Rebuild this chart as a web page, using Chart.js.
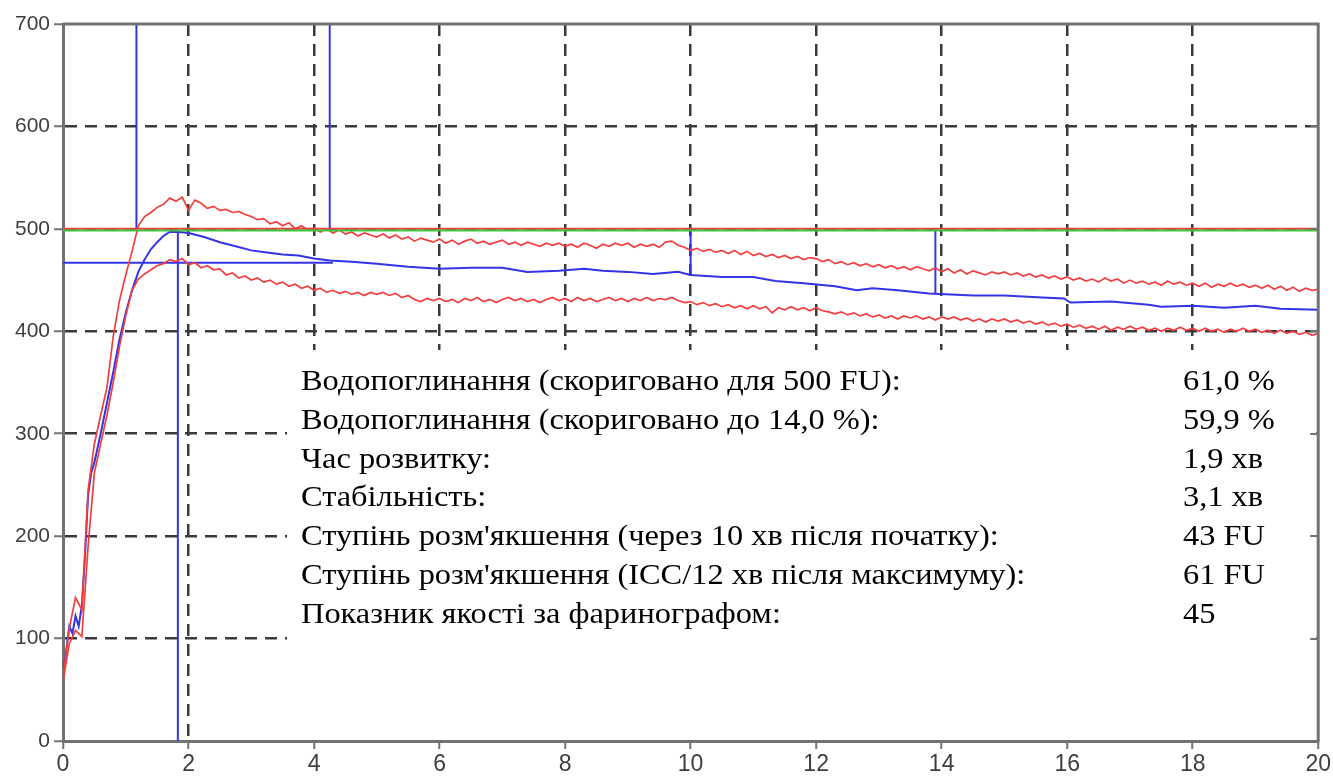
<!DOCTYPE html>
<html>
<head>
<meta charset="utf-8">
<script src="https://cdn.jsdelivr.net/npm/chart.js@4.4.1/dist/chart.umd.min.js"></script>
<style>
  html, body { margin: 0; padding: 0; background: #ffffff; }
  #wrap { width: 1333px; height: 776px; }
</style>
</head>
<body>
<div id="wrap"><canvas id="farinogram" width="1333" height="776"></canvas></div>
<script>
// Time axis (minutes) for the two envelope traces: 0.0 … 20.0 every 0.1 min
const envelopeTimes = Array.from({ length: 201 }, (_, i) => Math.round(i) / 10);

// Upper envelope of the consistency trace, FU
const upperTrace = [
  62, 110, 140, 128, 245, 290, 318, 345, 395, 430,
  455, 478, 503, 512, 516, 521, 524, 530, 527, 531,
  518, 528, 525, 520, 522, 518, 519, 516, 517, 514,
  512, 509, 510, 505, 507, 503, 506, 500, 503, 499,
  501, 497, 500, 496, 499, 495, 497, 493, 496, 494,
  492, 495, 491, 494, 490, 492, 488, 491, 489, 487,
  490, 486, 489, 485, 488, 490, 486, 488, 485, 487,
  489, 485, 487, 484, 487, 485, 483, 486, 484, 486,
  483, 485, 482, 486, 484, 481, 485, 483, 486, 484,
  486, 482, 485, 483, 485, 482, 487, 488, 484, 482,
  479, 481, 478, 480, 477, 479, 476, 479, 475, 478,
  474, 476, 473, 475, 472, 474, 471, 473, 470, 472,
  471, 468, 470, 466, 468, 465, 467, 464, 466, 463,
  465, 462, 464, 461, 463, 460, 463, 461, 459, 462,
  458, 461, 457, 460, 456, 459, 457, 455, 458, 456,
  458, 455, 457, 454, 456, 453, 455, 452, 454, 451,
  453, 450, 452, 449, 451, 448, 452, 449, 451, 447,
  450, 447, 449, 446, 448, 445, 449, 446, 448, 445,
  447, 444, 447, 443, 446, 444, 447, 444, 446, 443,
  445, 442, 445, 441, 444, 440, 443, 439, 442, 440,
  441
];

// Lower envelope of the consistency trace, FU
const lowerTrace = [
  58, 95, 108, 102, 190, 262, 290, 318, 350, 385,
  415, 440, 451, 456, 460, 464, 466, 470, 468, 471,
  465, 467, 462, 464, 460, 461, 455, 457, 452, 454,
  450, 452, 448, 450, 446, 448, 444, 446, 442, 444,
  440, 442, 438, 440, 437, 439, 436, 438, 435, 438,
  436, 438, 435, 437, 433, 435, 431, 429, 432, 430,
  432, 429, 431, 428, 432, 430, 433, 429, 431, 428,
  431, 433, 430, 432, 429, 431, 428, 431, 433, 430,
  432, 429, 433, 430, 432, 429, 431, 433, 430, 432,
  429, 432, 430, 433, 430, 432, 431, 433, 430, 428,
  429, 426, 428, 425, 427, 424, 426, 423, 425, 422,
  425, 422, 424, 418, 423, 421, 424, 421, 423, 420,
  423, 420, 419, 417, 419, 416, 418, 415, 417, 414,
  416, 413, 415, 412, 415, 413, 415, 412, 414, 411,
  414, 412, 414, 411, 413, 410, 412, 409, 412, 410,
  412, 409, 411, 408, 410, 407, 409, 406, 408, 405,
  407, 404, 406, 403, 405, 402, 405, 401, 404, 402,
  405, 402, 404, 401, 403, 400, 403, 401, 404, 401,
  403, 400, 403, 400, 402, 399, 402, 400, 403, 400,
  402, 399, 401, 398, 401, 398, 400, 397, 399, 396,
  398
];

// Averaged consistency curve
const meanTimes = [
  0, 0.05, 0.1, 0.15, 0.2, 0.25, 0.3, 0.35, 0.4, 0.45,
  0.5, 0.6, 0.7, 0.8, 0.9, 1.0, 1.1, 1.2, 1.3, 1.4,
  1.5, 1.6, 1.7, 1.85, 2.0, 2.25, 2.5, 2.75, 3.0, 3.25,
  3.5, 3.75, 4.0, 4.25, 4.6, 5.0, 5.5, 6.0, 6.5, 7.0,
  7.4, 7.9, 8.3, 8.6, 9.0, 9.4, 9.8, 10.0, 10.5, 11.0,
  11.35, 11.8, 12.3, 12.65, 12.9, 13.3, 13.8, 14.5, 15.0, 15.6,
  15.95, 16.05, 16.7, 17.3, 17.5, 18.0, 18.5, 19.0, 19.4, 20
];
const meanValues = [
  64, 88, 112, 105, 122, 112, 132, 180, 240, 262,
  272, 300, 330, 360, 392, 418, 440, 458, 470, 480,
  487, 493, 497, 497, 496, 492, 487, 483, 479, 477,
  475, 474, 471, 469, 468, 466, 463, 461, 462, 462,
  458, 459, 461, 459, 458, 456, 458, 455, 453, 453,
  449, 447, 444, 440, 442, 440, 437, 435, 435, 433,
  432, 428, 429, 426, 424, 425, 423, 425, 422, 421
];

// Evaluation markers: [time, from FU, to FU]
const markerVerticals = [
  [1.17, 500, 700],
  [4.25, 500, 700],
  [1.83, 0, 497],
  [10.0, 455, 500],
  [13.9, 437, 500]
];
const markerHorizontal = { value: 467, from: 0, to: 4.3 };
const targetLine = 500;
const targetBandLow = 498.5;

// Axis ticks
const xTicks = [0, 2, 4, 6, 8, 10, 12, 14, 16, 18, 20];
const yTicks = [0, 100, 200, 300, 400, 500, 600, 700];

// Result table
const resultLabels = [
  "Водопоглинання (скориговано для 500 FU):",
  "Водопоглинання (скориговано до 14,0 %):",
  "Час розвитку:",
  "Стабільність:",
  "Ступінь розм'якшення (через 10 хв після початку):",
  "Ступінь розм'якшення (ICC/12 хв після максимуму):",
  "Показник якості за фаринографом:"
];
const resultValues = ["61,0 %", "59,9 %", "1,9 хв", "3,1 хв", "43 FU", "61 FU", "45"];

// ---------------------------------------------------------------------------
const RED = '#f23e3e';
const BLUE = '#3434e6';
const GREEN = '#3cc83c';
const AXIS = '#727272';
const GRID = '#3a3a3a';

const toPoints = (xs, ys) => xs.map((x, i) => ({ x, y: ys[i] }));
const lineSet = (data, color, width) => ({
  data, borderColor: color, borderWidth: width, pointRadius: 0,
  tension: 0, fill: false
});

const datasets = [
  lineSet([{ x: 0, y: targetBandLow }, { x: 20, y: targetBandLow }], GREEN, 2),
  lineSet([{ x: 0, y: targetLine }, { x: 20, y: targetLine }], RED, 2),
  lineSet(toPoints(envelopeTimes, upperTrace), RED, 1.7),
  lineSet(toPoints(envelopeTimes, lowerTrace), RED, 1.7),
  lineSet(toPoints(meanTimes, meanValues), BLUE, 2),
  lineSet([{ x: markerHorizontal.from, y: markerHorizontal.value },
           { x: markerHorizontal.to, y: markerHorizontal.value }], BLUE, 2),
  ...markerVerticals.map(([t, a, b]) => lineSet([{ x: t, y: a }, { x: t, y: b }], BLUE, 2))
];

const edgeTransparent = (lo, hi) => (ctx) =>
  (ctx.tick && (ctx.tick.value === lo || ctx.tick.value === hi)) ? 'rgba(0,0,0,0)' : GRID;

// Frame, result panel and inner right-hand ticks
const panelPlugin = {
  id: 'panelPlugin',
  beforeDatasetsDraw(chart) {
    const { ctx, chartArea: a } = chart;
    ctx.save();
    ctx.fillStyle = '#ffffff';
    ctx.fillRect(287, 350, a.right - 2 - 287, a.bottom - 2 - 350);
    ctx.restore();
  },
  afterDatasetsDraw(chart) {
    const { ctx } = chart;
    ctx.save();
    ctx.fillStyle = '#000000';
    ctx.font = "30px 'Liberation Serif'";
    ctx.textBaseline = 'alphabetic';
    ctx.textAlign = 'left';
    const stretch = 1.08;
    resultLabels.forEach((t, i) => {
      const y = 390 + i * 38.8;
      ctx.save();
      ctx.translate(301, y);
      ctx.scale(stretch, 1);
      ctx.fillText(t, 0, 0);
      ctx.restore();
      ctx.save();
      ctx.translate(1183, y);
      ctx.scale(stretch, 1);
      ctx.fillText(resultValues[i], 0, 0);
      ctx.restore();
    });
    ctx.restore();
  },
  afterDraw(chart) {
    const { ctx, chartArea: a, scales } = chart;
    ctx.save();
    ctx.strokeStyle = AXIS;
    ctx.lineWidth = 3;
    ctx.beginPath();
    ctx.moveTo(a.left, a.top);
    ctx.lineTo(a.right, a.top);
    ctx.lineTo(a.right, a.bottom);
    ctx.stroke();
    ctx.lineWidth = 2;
    yTicks.slice(1, -1).forEach(v => {
      const y = Math.round(scales.y.getPixelForValue(v));
      ctx.beginPath();
      ctx.moveTo(a.right - 8, y);
      ctx.lineTo(a.right, y);
      ctx.stroke();
    });
    ctx.restore();
  }
};

new Chart(document.getElementById('farinogram'), {
  type: 'line',
  data: { datasets },
  plugins: [panelPlugin],
  options: {
    responsive: false,
    animation: false,
    devicePixelRatio: 1,
    layout: { padding: { top: 24, right: 14, left: 0, bottom: 0 } },
    plugins: { legend: { display: false }, tooltip: { enabled: false } },
    scales: {
      x: {
        type: 'linear', min: 0, max: 20,
        afterBuildTicks: s => { s.ticks = xTicks.map(v => ({ value: v })); },
        afterFit: s => { s.height = 35; },
        ticks: { color: '#3e3e3e', font: { family: "'Liberation Sans', Arial", size: 23 }, padding: 2, maxRotation: 0 },
        grid: { color: edgeTransparent(0, 20), lineWidth: 2.5, tickLength: 8, tickColor: AXIS, tickWidth: 2 },
        border: { color: AXIS, width: 3, dash: [12, 8] }
      },
      y: {
        type: 'linear', min: 0, max: 700,
        afterBuildTicks: s => { s.ticks = yTicks.map(v => ({ value: v })); },
        afterFit: s => { s.width = 63; },
        ticks: { color: '#3e3e3e', font: { family: "'Liberation Sans', Arial", size: 21 }, padding: 4 },
        grid: { color: edgeTransparent(0, 700), lineWidth: 2.5, tickLength: 9, tickColor: AXIS, tickWidth: 2 },
        border: { color: AXIS, width: 3, dash: [12, 8] }
      }
    }
  }
});
</script>
</body>
</html>
